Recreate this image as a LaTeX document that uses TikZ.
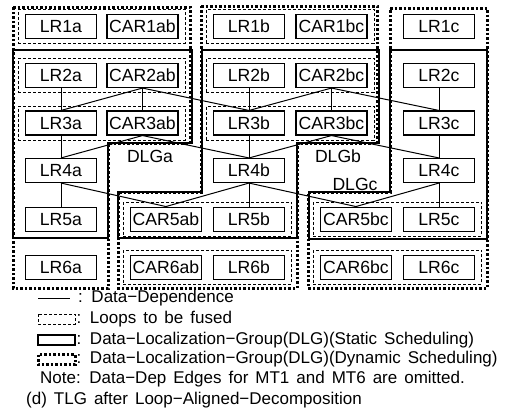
\documentclass[tikz,border=0pt]{standalone}
\usepackage{fontspec}
\setmainfont{Liberation Sans}
\usetikzlibrary{positioning,fit}

\newcommand\lgfont{\fontsize{17}{20}\selectfont\spaceskip 7pt plus 1pt\relax}

\tikzset{
  task/.style={draw, rectangle, line width=1.1pt, minimum width=71pt, minimum height=24pt, inner sep=0pt},
  fused/.style={draw, dash pattern=on 3pt off 2pt, line width=0.9pt, inner xsep=6.5pt, inner ysep=4.5pt},
  dlgstatic/.style={line width=2.2pt},
  dlgdyn/.style={line width=3pt, dash pattern=on 2.5pt off 2pt},
  dep/.style={line width=1pt},
  legend/.style={anchor=west, inner sep=0pt, font=\lgfont}
}

\begin{document}
\begin{tikzpicture}[x=1pt, y=-1pt, font=\fontsize{17.6}{20}\selectfont]
  \useasboundingbox (0,0) rectangle (515,413);

  % dynamic scheduling groups
  \draw[dlgdyn] (13,7) -- (190,7) -- (190,143) -- (108,143) -- (108,288) -- (13,288) -- cycle;
  \draw[dlgdyn] (201,6) -- (377,6) -- (377,143) -- (297,143) -- (297,288) -- (118,288) -- (118,192) -- (201,192) -- cycle;
  \draw[dlgdyn] (390,8) -- (487,8) -- (487,288) -- (308,288) -- (308,192) -- (390,192) -- cycle;

  % static scheduling groups
  \draw[dlgstatic] (13,50) -- (192,50) -- (192,143) -- (108,143) -- (108,238) -- (13,238) -- cycle;
  \draw[dlgstatic] (202,50) -- (379,50) -- (379,143) -- (297,143) -- (297,238) -- (118,238) -- (118,192) -- (202,192) -- cycle;
  \draw[dlgstatic] (390,50) -- (487,50) -- (487,239) -- (309,239) -- (309,192) -- (390,192) -- cycle;

  \node at (150,156) {DLGa};
  \node at (338,156) {DLGb};
  \node at (355,184) {DLGc};

  % macro-tasks
  \foreach \i/\y in {1/26.5, 2/75.5, 3/123} {
    \node[task] (LR\i a) at (61,\y) {LR\i a};
    \node[task] (CAR\i ab) at (142.5,\y) {CAR\i ab};
    \node[task] (LR\i b) at (249,\y) {LR\i b};
    \node[task] (CAR\i bc) at (331.5,\y) {CAR\i bc};
    \node[task] (LR\i c) at (439,\y) {LR\i c};
  }
  \node[task] (LR4a) at (61,170.5) {LR4a};
  \node[task] (LR4b) at (249,170.5) {LR4b};
  \node[task] (LR4c) at (439,170.5) {LR4c};

  \node[task, below=23.5pt of LR4a] (LR5a) {LR5a};
  \node[task, below=23.5pt of LR4b] (LR5b) {LR5b};
  \node[task, below=23.5pt of LR4c] (LR5c) {LR5c};
  \node[task, left=11pt of LR5b] (CAR5ab) {CAR5ab};
  \node[task, left=11pt of LR5c] (CAR5bc) {CAR5bc};

  \node[task, below=23pt of LR5a] (LR6a) {LR6a};
  \node[task, below=23pt of LR5b] (LR6b) {LR6b};
  \node[task, below=23pt of LR5c] (LR6c) {LR6c};
  \node[task, below=23pt of CAR5ab] (CAR6ab) {CAR6ab};
  \node[task, below=23pt of CAR5bc] (CAR6bc) {CAR6bc};

  % loops to be fused
  \node[fused, fit=(LR1a)(CAR1ab)] {};
  \node[fused, fit=(LR1b)(CAR1bc)] {};
  \node[fused, fit=(LR2a)(CAR2ab)] {};
  \node[fused, fit=(LR2b)(CAR2bc)] {};
  \node[fused, fit=(LR3a)(CAR3ab)] {};
  \node[fused, fit=(LR3b)(CAR3bc)] {};
  \node[fused, fit=(CAR5ab)(LR5b)] {};
  \node[fused, fit=(CAR5bc)(LR5c)] {};
  \node[fused, fit=(CAR6ab)(LR6b)] {};
  \node[fused, fit=(CAR6bc)(LR6c)] {};

  % data dependences
  \foreach \s/\t in {LR2a/LR3a, CAR2ab/LR3a, CAR2ab/CAR3ab, CAR2ab/LR3b,
                     LR2b/LR3b, CAR2bc/LR3b, CAR2bc/CAR3bc, CAR2bc/LR3c, LR2c/LR3c,
                     LR3a/LR4a, CAR3ab/LR4a, CAR3ab/LR4b, LR3b/LR4b,
                     CAR3bc/LR4b, CAR3bc/LR4c, LR3c/LR4c,
                     LR4a/LR5a, LR4a/CAR5ab, LR4b/CAR5ab, LR4b/LR5b,
                     LR4b/CAR5bc, LR4c/CAR5bc, LR4c/LR5c}
    \draw[dep] (\s.south) -- (\t.north);

  % legend
  \draw[dep] (38,298) -- (70,298);
  \node[legend] (lgdep) at (78,298) {: Data−Dependence};
  \draw[fused] (38,314) rectangle (75,324);
  \node[legend] (lgfuse) at (76.5,319) {: Loops to be fused};
  \draw[dlgstatic] (38,335) rectangle (75,345);
  \node[legend] (lgstat) at (76.5,340) {: Data−Localization−Group(DLG)(Static Scheduling)};
  \draw[dlgdyn] (38,354.5) rectangle (75,364.5);
  \node[legend] (lgdyn) at (76.5,359.5) {: Data−Localization−Group(DLG)(Dynamic Scheduling)};
  \node[legend] (lgnote) at (40,379.5) {Note: Data−Dep Edges for MT1 and MT6 are omitted.};
  \node[legend] (caption) at (26,400.5) {(d) TLG after Loop−Aligned−Decomposition};
\end{tikzpicture}
\end{document}
